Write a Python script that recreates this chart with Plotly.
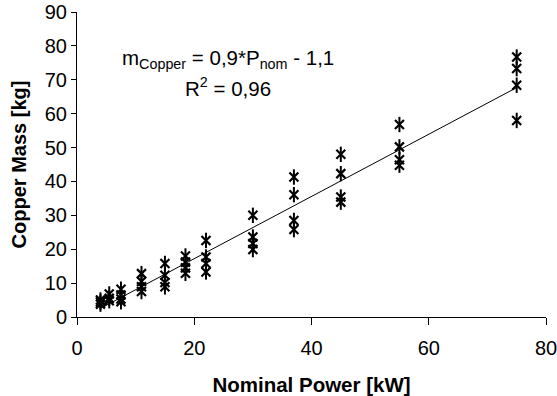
import numpy as np
import plotly.graph_objects as go

# Nominal power [kW] and measured copper mass [kg]
powers = [4, 5.5, 7.5, 11, 15, 18.5, 22, 30, 37, 45, 55, 75]
copper_mass = [
    [5.0, 4.4, 3.8],
    [6.8, 5.5, 4.8],
    [8.2, 6.5, 5.3, 4.5],
    [12.8, 10.5, 8.9, 7.5],
    [15.8, 12.3, 10.2, 8.9],
    [18.0, 16.2, 14.5, 12.9],
    [22.6, 17.7, 15.8, 13.3],
    [30.0, 23.6, 21.7, 19.9],
    [41.3, 36.1, 28.5, 25.8],
    [48.0, 42.3, 35.4, 33.9],
    [56.8, 50.2, 46.4, 44.8],
    [76.7, 73.3, 68.4, 58.0],
]
x_ticks = [0, 20, 40, 60, 80]
y_ticks = [0, 10, 20, 30, 40, 50, 60, 70, 80, 90]

xs = [p for p, ms in zip(powers, copper_mass) for _ in ms]
ys = [m for ms in copper_mass for m in ms]

slope, intercept = np.polyfit(xs, ys, 1)
x_fit = [min(powers), max(powers)]
y_fit = [slope * v + intercept for v in x_fit]

FONT = "Arial, Liberation Sans, sans-serif"

fig = go.Figure()
fig.add_trace(go.Scatter(x=x_fit, y=y_fit, mode="lines",
                         line=dict(color="black", width=1), showlegend=False))
fig.add_trace(go.Scatter(x=xs, y=ys, mode="markers", showlegend=False,
                         marker=dict(symbol="x-thin-open", size=9, color="black",
                                     line=dict(color="black", width=2.2))))
fig.add_trace(go.Scatter(x=xs, y=ys, mode="markers", showlegend=False,
                         marker=dict(symbol="line-ns-open", size=11, color="black",
                                     line=dict(color="black", width=2))))

fig.add_annotation(x=25.8, y=76, xref="x", yref="y", showarrow=False,
                   text="m<sub>Copper</sub> = 0,9*P<sub>nom</sub> - 1,1",
                   font=dict(family=FONT, size=20.5, color="black"))
fig.add_annotation(x=25.8, y=67.8, xref="x", yref="y", showarrow=False,
                   text="R<sup>2</sup> = 0,96",
                   font=dict(family=FONT, size=20.5, color="black"))

fig.update_layout(
    width=557, height=396,
    margin=dict(l=76.5, r=10.5, t=11.7, b=79.3, autoexpand=False),
    plot_bgcolor="white", paper_bgcolor="white",
    font=dict(family=FONT, size=20, color="black"),
)
fig.update_xaxes(
    range=[0, 80], tickvals=x_ticks, ticktext=[str(v) for v in x_ticks],
    showgrid=False, zeroline=False, showline=True, linecolor="black", linewidth=1,
    ticks="outside", ticklen=7, tickcolor="black", ticklabelstandoff=6,
    ticklabeloverflow="allow",
    title=dict(text="<b>Nominal Power [kW]</b>", standoff=22,
               font=dict(family=FONT, size=20.5, color="black")),
    automargin=False,
)
fig.update_yaxes(
    range=[0, 90], tickvals=y_ticks, ticktext=[str(v) for v in y_ticks],
    showgrid=False, zeroline=False, showline=True, linecolor="black", linewidth=1,
    ticks="outside", ticklen=5, tickcolor="black", ticklabeloverflow="allow",
    title=dict(text="<b>Copper Mass [kg]</b>", standoff=12,
               font=dict(family=FONT, size=20, color="black")),
    automargin=False,
)

fig.write_html("out.html")
